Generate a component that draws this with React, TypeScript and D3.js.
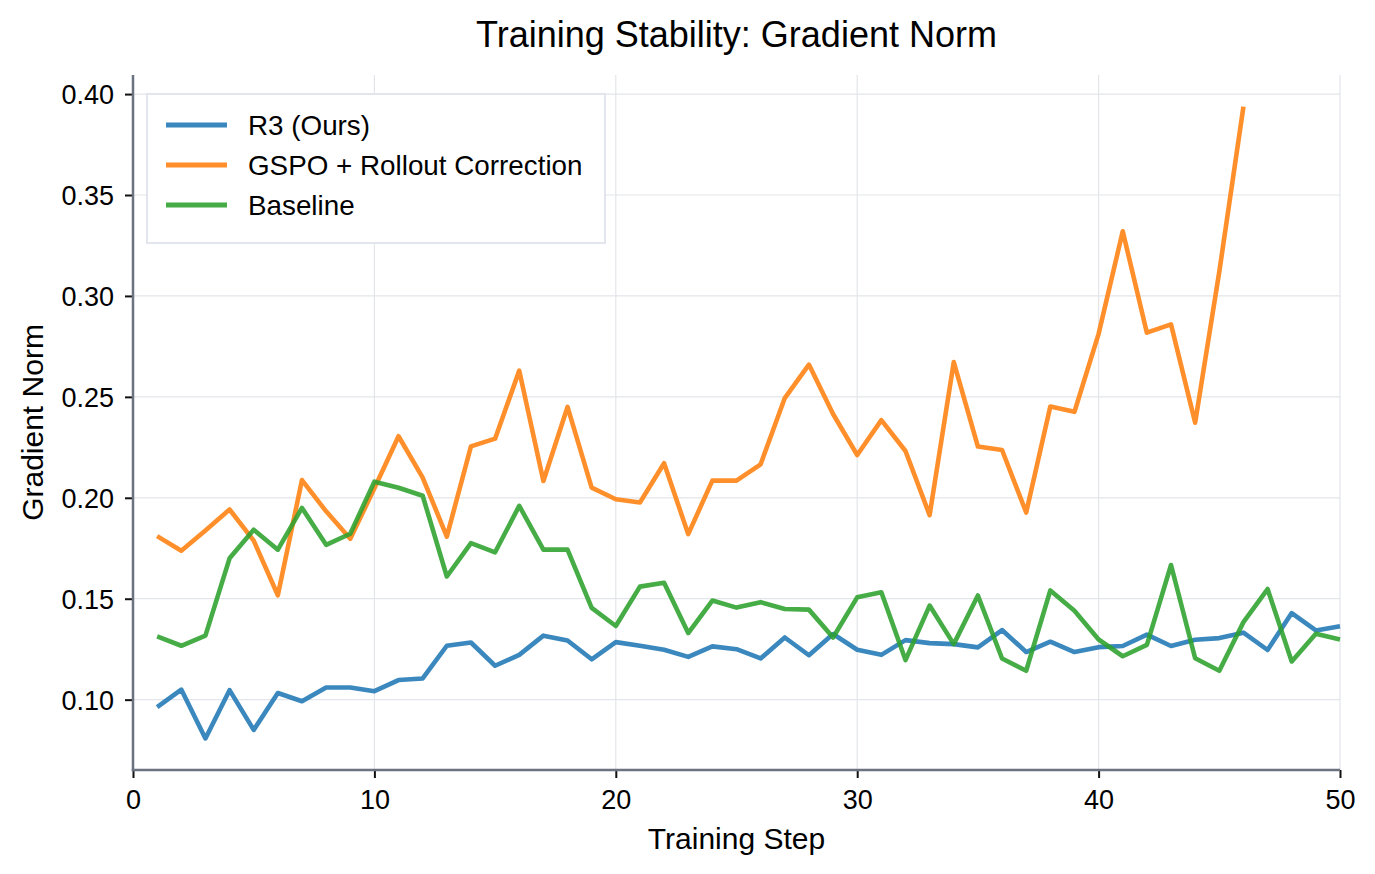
import { useEffect, useRef } from "react"
import * as d3 from "d3"

// values
const r3Values = [
  0.0963, 0.105, 0.0808, 0.1047, 0.085, 0.1033, 0.0992, 0.106, 0.106, 0.1042,
  0.1097, 0.1105, 0.1267, 0.1283, 0.1168, 0.1222, 0.1317, 0.1293, 0.12, 0.1285,
  0.1267, 0.1247, 0.1212, 0.1264, 0.125, 0.1204, 0.1308, 0.122, 0.1325, 0.1247,
  0.1222, 0.1295, 0.128, 0.1275, 0.1259, 0.1345, 0.1236, 0.1287, 0.1236, 0.126,
  0.1266, 0.1322, 0.1266, 0.1297, 0.1305, 0.1332, 0.1246, 0.1429, 0.1343, 0.1364,
]

const gspoValues = [
  0.181, 0.1738, 0.1838, 0.1942, 0.1788, 0.1517, 0.2088, 0.1933, 0.1797, 0.2047,
  0.2305, 0.21, 0.1808, 0.2255, 0.2293, 0.263, 0.2083, 0.245, 0.205, 0.1993,
  0.1977, 0.2171, 0.182, 0.2085, 0.2085, 0.2166, 0.2494, 0.266, 0.2415, 0.2212,
  0.2385, 0.2232, 0.1914, 0.2672, 0.2254, 0.2237, 0.1927, 0.2452, 0.2426, 0.2812,
  0.332, 0.2818, 0.2859, 0.2372, 0.312, 0.3938,
]

const baselineValues = [
  0.1313, 0.1267, 0.1317, 0.17, 0.1842, 0.1743, 0.195, 0.1767, 0.1822, 0.208,
  0.205, 0.201, 0.161, 0.1775, 0.173, 0.196, 0.1743, 0.1743, 0.1455, 0.1365,
  0.156, 0.1579, 0.133, 0.1491, 0.1456, 0.1483, 0.1449, 0.1446, 0.1308, 0.1507,
  0.1532, 0.1196, 0.1466, 0.1275, 0.1516, 0.1204, 0.1143, 0.1541, 0.144, 0.1298,
  0.1215, 0.1271, 0.1667, 0.1205, 0.1143, 0.1384, 0.1548, 0.1189, 0.1326, 0.1298,
]

const seriesNames = ["R3 (Ours)", "GSPO + Rollout Correction", "Baseline"]
const seriesColors = ["#1f77b4", "#ff7f0e", "#2ca02c"]
const xTicks = [0, 10, 20, 30, 40, 50]
const yTicks = [0.1, 0.15, 0.2, 0.25, 0.3, 0.35, 0.4]

const FONT = "'Liberation Sans', Arial, Helvetica, sans-serif"

function GradNormChart() {
  const svgRef = useRef<SVGSVGElement>(null)

  useEffect(() => {
    if (!svgRef.current) return
    const root = d3.select(svgRef.current)
    root.selectAll("*").remove()

    const width = 1375
    const height = 874
    const margin = { left: 133, right: 35, top: 75, bottom: 104 }

    const series = [r3Values, gspoValues, baselineValues].map((vals, i) => ({
      name: seriesNames[i],
      color: seriesColors[i],
      points: vals.map((v, j) => ({ step: j + 1, value: v })),
    }))

    // matplotlib-style 5% padding on the y extent
    const all = series.flatMap((s) => s.points.map((p) => p.value))
    const [lo, hi] = d3.extent(all) as [number, number]
    const pad = (hi - lo) * 0.05

    const x = d3.scaleLinear().domain([0, 50]).range([margin.left, width - margin.right])
    const y = d3
      .scaleLinear()
      .domain([lo - pad, hi + pad])
      .range([height - margin.bottom, margin.top])

    root.attr("width", width).attr("height", height)

    // grid
    const grid = root.append("g")
    grid
      .selectAll("line.gx")
      .data(xTicks)
      .enter()
      .append("line")
      .attr("x1", (d) => x(d))
      .attr("x2", (d) => x(d))
      .attr("y1", y.range()[1])
      .attr("y2", y.range()[0])
      .attr("stroke", "#e3e5ea")
      .attr("stroke-width", 1.2)
    grid
      .selectAll("line.gy")
      .data(yTicks)
      .enter()
      .append("line")
      .attr("x1", x.range()[0])
      .attr("x2", x.range()[1])
      .attr("y1", (d) => y(d))
      .attr("y2", (d) => y(d))
      .attr("stroke", "#e3e5ea")
      .attr("stroke-width", 1.2)

    // lines
    const line = d3
      .line<{ step: number; value: number }>()
      .x((d) => x(d.step))
      .y((d) => y(d.value))

    series.forEach((s) => {
      root
        .append("path")
        .datum(s.points)
        .attr("d", line)
        .attr("fill", "none")
        .attr("stroke", s.color)
        .attr("stroke-width", 4.6)
        .attr("stroke-linejoin", "round")
        .attr("stroke-linecap", "butt")
        .attr("opacity", 0.88)
    })

    // axes
    const xAxis = d3.axisBottom(x).tickValues(xTicks).tickSize(8).tickPadding(8)
    const yAxis = d3
      .axisLeft(y)
      .tickValues(yTicks)
      .tickFormat(d3.format(".2f"))
      .tickSize(8)
      .tickPadding(11)

    const gx = root
      .append("g")
      .attr("transform", `translate(0,${y.range()[0]})`)
      .call(xAxis)
    const gy = root.append("g").attr("transform", `translate(${x.range()[0]},0)`).call(yAxis)

    ;[gx, gy].forEach((g) => {
      g.select(".domain").remove()
      g.selectAll(".tick line").attr("stroke", "#111").attr("stroke-width", 2)
      g.selectAll(".tick text")
        .attr("fill", "#000")
        .attr("font-family", FONT)
        .attr("font-size", 27)
    })
    gx.selectAll(".tick text").attr("dy", "0.85em")
    gy.selectAll(".tick text").attr("dy", "0.35em")

    // spines
    root
      .append("line")
      .attr("x1", x.range()[0])
      .attr("x2", x.range()[0])
      .attr("y1", y.range()[1])
      .attr("y2", y.range()[0] + 1.25)
      .attr("stroke", "#6b7280")
      .attr("stroke-width", 2.5)
    root
      .append("line")
      .attr("x1", x.range()[0] - 1.25)
      .attr("x2", x.range()[1])
      .attr("y1", y.range()[0])
      .attr("y2", y.range()[0])
      .attr("stroke", "#6b7280")
      .attr("stroke-width", 2.5)

    // labels
    root
      .append("text")
      .attr("x", (x.range()[0] + x.range()[1]) / 2)
      .attr("y", 47)
      .attr("text-anchor", "middle")
      .attr("font-family", FONT)
      .attr("font-size", 36)
      .attr("fill", "#000")
      .text("Training Stability: Gradient Norm")

    root
      .append("text")
      .attr("x", (x.range()[0] + x.range()[1]) / 2)
      .attr("y", 849)
      .attr("text-anchor", "middle")
      .attr("font-family", FONT)
      .attr("font-size", 30)
      .attr("fill", "#000")
      .text("Training Step")

    root
      .append("text")
      .attr(
        "transform",
        `translate(43,${(y.range()[0] + y.range()[1]) / 2}) rotate(-90)`
      )
      .attr("text-anchor", "middle")
      .attr("font-family", FONT)
      .attr("font-size", 30)
      .attr("fill", "#000")
      .text("Gradient Norm")

    // legend
    const legend = root.append("g").attr("transform", "translate(147,94)")
    legend
      .append("rect")
      .attr("width", 458)
      .attr("height", 149)
      .attr("fill", "#fff")
      .attr("fill-opacity", 0.95)
      .attr("stroke", "#e2e5eb")
      .attr("stroke-width", 2)

    const rows = legend
      .selectAll("g.row")
      .data(series)
      .enter()
      .append("g")
      .attr("transform", (d, i) => `translate(0,${31 + i * 40})`)

    rows
      .append("line")
      .attr("x1", 19)
      .attr("x2", 80)
      .attr("y1", 0)
      .attr("y2", 0)
      .attr("stroke", (d) => d.color)
      .attr("stroke-width", 5)
      .attr("opacity", 0.88)

    rows
      .append("text")
      .attr("x", 101)
      .attr("y", 0)
      .attr("dy", "0.35em")
      .attr("font-family", FONT)
      .attr("font-size", 27.8)
      .attr("fill", "#000")
      .text((d) => d.name)
  }, [])

  return <svg ref={svgRef} style={{ display: "block" }} />
}

export default function App() {
  return (
    <div style={{ margin: -8 }}>
      <GradNormChart />
    </div>
  )
}
